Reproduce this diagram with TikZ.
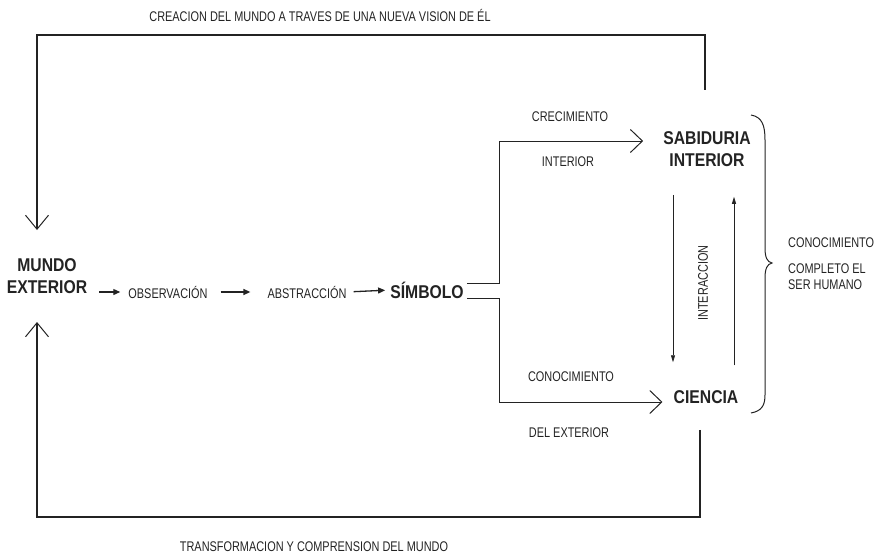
\documentclass[tikz,border=0pt]{standalone}
\usepackage{fontspec}
\setmainfont{Liberation Sans}[FakeStretch=0.85]
\newfontfamily\narfont{Liberation Sans}[FakeStretch=0.78]
\usetikzlibrary{arrows.meta}
\definecolor{ink}{RGB}{35,35,35}
\tikzset{
  lbl/.style={font=\narfont\fontsize{14}{16}\selectfont, inner sep=0pt, text=ink},
  bigl/.style={font=\fontsize{18.5}{22}\selectfont\bfseries, inner sep=0pt, text=ink, align=center},
  loopline/.style={draw=ink, line width=1.4pt, -{Straight Barb[length=14pt,width=23pt,line width=1pt]}},
  branch/.style={draw=ink, line width=1pt, -{Straight Barb[length=12pt,width=23pt]}},
  smallarr/.style={draw=ink, line width=1.3pt, -{Triangle[length=7pt,width=6pt]}},
  thinarr/.style={draw=ink, line width=0.8pt, -{Triangle[length=7pt,width=4pt]}},
}
\begin{document}
\begin{tikzpicture}[x=1pt,y=-1pt]
\useasboundingbox (0,0) rectangle (886,557);
% texts
\node[lbl] (toptxt) at (320,15) {CREACION DEL MUNDO A TRAVES DE UNA NUEVA VISION DE ÉL};
\node[lbl] (bottxt) at (314,547) {TRANSFORMACION Y COMPRENSION DEL MUNDO};
\node[bigl] (mundo) at (47,276) {MUNDO\\EXTERIOR};
\node[lbl] (obs) at (168,292) {OBSERVACIÓN};
\node[lbl] (abs) at (307,292) {ABSTRACCIÓN};
\node[bigl] (sim) at (427,290) {SÍMBOLO};
\node[bigl] (sab) at (707,149) {SABIDURIA\\INTERIOR};
\node[bigl] (cien) at (706,397) {CIENCIA};
\node[lbl] (crec) at (570,117) {CRECIMIENTO};
\node[lbl] (intl) at (568,162) {INTERIOR};
\node[lbl] (conoc) at (571,377) {CONOCIMIENTO};
\node[lbl] (delext) at (569,433) {DEL EXTERIOR};
\node[lbl, rotate=90] (inter) at (703,283) {INTERACCION};
\node[lbl, anchor=north west, align=left] (total) at (788,238) {CONOCIMIENTO\\[10pt]COMPLETO EL\\SER HUMANO};
% coordinates
\coordinate (tl) at (37,35);
\coordinate (topin) at (37,230);
\coordinate (bl) at (37,517);
\coordinate (botin) at (37,322);
% chain
\draw[smallarr, shorten <=12pt, shorten >=8pt] (mundo.east |- obs.west) -- (obs.west);
\draw[smallarr, shorten <=13pt, shorten >=17pt] (obs.east) -- (abs.west);
\draw[smallarr, shorten <=7pt, shorten >=5pt] (abs.east) -- (sim.west);
% branches
\draw[branch] ([xshift=3pt,yshift=7pt]sim.east) -- ++(33,0) |- ([xshift=-20pt,yshift=8pt]sab.west);
\draw[branch] ([xshift=3pt,yshift=-8pt]sim.east) -- ++(33,0) |- ([xshift=-11pt,yshift=-5pt]cien.west);
% interaction
\draw[thinarr, shorten <=28pt, shorten >=28pt] ([xshift=-34pt]sab.south) -- ([xshift=-33pt]cien.north);
\draw[thinarr, shorten <=25pt, shorten >=30pt] ([xshift=28pt]cien.north) -- ([xshift=27pt]sab.south);
% loops
\draw[loopline] ([xshift=-2pt,yshift=41.5pt]sab.north) |- (tl) -- (topin);
\draw[loopline] ([xshift=-6pt,yshift=-26pt]cien.south) |- (bl) -- (botin);
% brace
\draw[ink, line width=1pt] (751,115) .. controls (762,117) and (765,125) .. (765,140) -- (765,248)
  .. controls (765,257) and (767,262) .. (772,263)
  .. controls (767,264) and (765,269) .. (765,278) -- (765,395)
  .. controls (765,405) and (762,411) .. (751,413);
\end{tikzpicture}
\end{document}
